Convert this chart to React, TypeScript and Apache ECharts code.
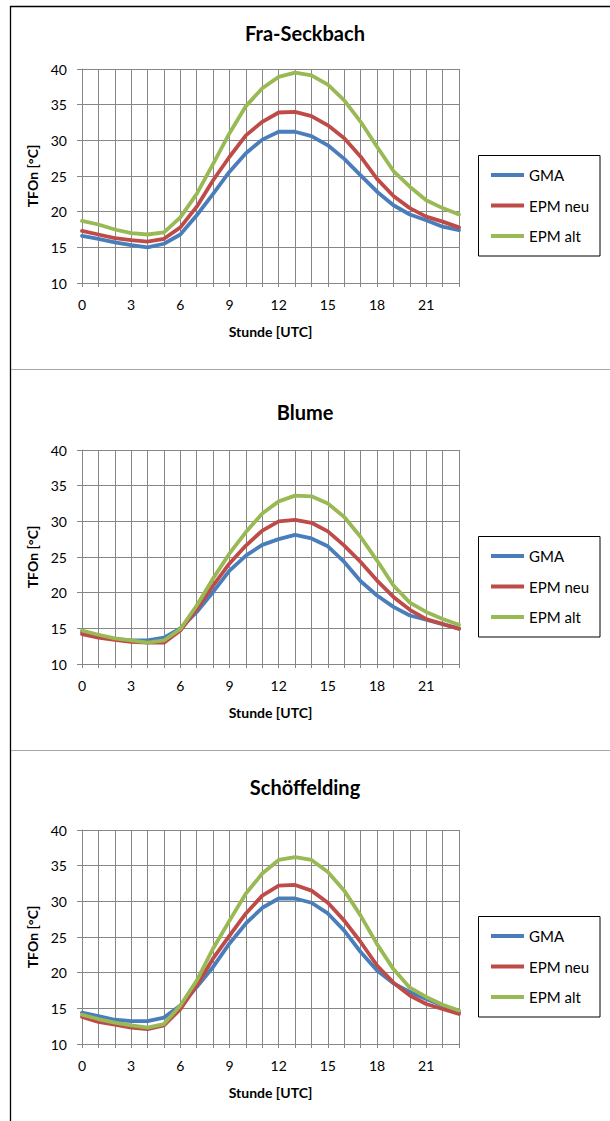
import React, { useEffect, useRef } from "react";
import * as echarts from "echarts";

// Hour categories of the daily cycle
const hours = ["0", "1", "2", "3", "4", "5", "6", "7", "8", "9", "10", "11", "12", "13", "14", "15", "16", "17", "18", "19", "20", "21", "22", "23"];

const seriesNames = ["GMA", "EPM neu", "EPM alt"];
const seriesColors = ["#4A7EBB", "#BE4B48", "#98B954"];

const stationTitles = ["Fra-Seckbach", "Blume", "Schöffelding"];

// Fra-Seckbach
const seckbachGMA = [16.6, 16.2, 15.7, 15.3, 15.0, 15.5, 16.8, 19.5, 22.5, 25.6, 28.2, 30.1, 31.2, 31.2, 30.6, 29.3, 27.4, 25.1, 22.8, 20.9, 19.6, 18.8, 17.9, 17.4];
const seckbachNeu = [17.3, 16.8, 16.3, 16.0, 15.8, 16.2, 17.8, 20.7, 24.4, 27.7, 30.7, 32.6, 33.9, 34.0, 33.4, 32.1, 30.3, 27.7, 24.6, 22.2, 20.5, 19.3, 18.6, 17.8];
const seckbachAlt = [18.7, 18.2, 17.5, 17.0, 16.8, 17.1, 19.2, 22.5, 26.7, 31.0, 34.8, 37.3, 38.9, 39.5, 39.1, 37.8, 35.6, 32.6, 29.1, 25.7, 23.5, 21.6, 20.5, 19.6];

// Blume
const blumeGMA = [14.5, 14.0, 13.5, 13.3, 13.3, 13.7, 15.0, 17.3, 20.1, 23.1, 25.2, 26.7, 27.5, 28.1, 27.6, 26.5, 24.3, 21.6, 19.6, 18.0, 16.8, 16.2, 15.6, 15.0];
const blumeNeu = [14.2, 13.7, 13.4, 13.1, 13.0, 13.0, 14.7, 17.7, 21.0, 24.1, 26.6, 28.7, 30.0, 30.2, 29.8, 28.6, 26.6, 24.3, 21.7, 19.4, 17.6, 16.3, 15.6, 14.9];
const blumeAlt = [14.7, 14.1, 13.6, 13.3, 13.0, 13.3, 14.9, 18.2, 22.0, 25.5, 28.5, 31.1, 32.8, 33.6, 33.5, 32.5, 30.6, 27.8, 24.5, 21.0, 18.6, 17.3, 16.3, 15.5];

// Schöffelding
const schoeffGMA = [14.4, 13.9, 13.4, 13.2, 13.2, 13.7, 15.4, 18.0, 20.8, 24.1, 26.9, 29.1, 30.4, 30.4, 29.8, 28.3, 25.9, 22.9, 20.3, 18.5, 17.3, 16.3, 15.4, 14.4];
const schoeffNeu = [13.8, 13.1, 12.7, 12.3, 12.1, 12.6, 14.9, 18.2, 22.0, 25.2, 28.3, 30.8, 32.2, 32.3, 31.5, 29.8, 27.3, 24.3, 21.0, 18.6, 16.8, 15.6, 14.9, 14.2];
const schoeffAlt = [14.1, 13.5, 13.0, 12.6, 12.3, 12.8, 15.4, 18.9, 23.4, 27.3, 31.1, 33.9, 35.8, 36.2, 35.8, 34.1, 31.5, 28.0, 24.0, 20.5, 17.9, 16.6, 15.5, 14.7];

const panelData = [
  [seckbachGMA, seckbachNeu, seckbachAlt],
  [blumeGMA, blumeNeu, blumeAlt],
  [schoeffGMA, schoeffNeu, schoeffAlt],
];

const yTicks = { min: 10, max: 40, interval: 5 };
const xAxisTitle = "Stunde [UTC]";
const yAxisTitle = "TFOn [°C]";

// Layout of the three stacked panels
const panelGridTops = [69, 450, 830];
const panelTitleCenters = [33, 412, 787];
const panelSeparators = [369, 750];
const gridLeft = 82;
const gridWidth = 377;
const gridHeight = 214;
const FONT = "Lato, 'Open Sans', sans-serif";
const GRID_GREY = "#868686";

export default function App() {
  const ref = useRef<HTMLDivElement>(null);

  useEffect(() => {
    if (!ref.current) return;
    const chart = echarts.init(ref.current, null, { renderer: "svg" });

    const grids: any[] = [];
    const xAxes: any[] = [];
    const yAxes: any[] = [];
    const series: any[] = [];
    const legends: any[] = [];
    const titles: any[] = [];
    const graphics: any[] = [];

    panelData.forEach((lines, p) => {
      const top = panelGridTops[p];
      grids.push({ left: gridLeft, top, width: gridWidth, height: gridHeight, containLabel: false });
      xAxes.push({
        type: "category",
        gridIndex: p,
        data: hours,
        boundaryGap: false,
        name: xAxisTitle,
        nameLocation: "middle",
        nameGap: 41,
        nameTextStyle: { fontFamily: FONT, fontWeight: "bold", fontSize: 14, color: "#000" },
        axisLine: { show: true, lineStyle: { color: GRID_GREY, width: 1 } },
        axisTick: { show: true, interval: 0, length: 4, lineStyle: { color: GRID_GREY } },
        axisLabel: { interval: 2, margin: 14, fontFamily: FONT, fontSize: 14, color: "#000" },
        splitLine: { show: true, interval: 0, lineStyle: { color: GRID_GREY, width: 1 } },
      });
      yAxes.push({
        type: "value",
        gridIndex: p,
        min: yTicks.min,
        max: yTicks.max,
        interval: yTicks.interval,
        name: yAxisTitle,
        nameLocation: "middle",
        nameGap: 38,
        nameTextStyle: { fontFamily: FONT, fontWeight: "bold", fontSize: 14, color: "#000" },
        axisLine: { show: true, lineStyle: { color: GRID_GREY, width: 1 } },
        axisTick: { show: true, length: 5, lineStyle: { color: GRID_GREY } },
        axisLabel: { margin: 15, fontFamily: FONT, fontSize: 14, color: "#000" },
        splitLine: { show: true, lineStyle: { color: GRID_GREY, width: 1 } },
      });
      lines.forEach((values, s) => {
        series.push({
          type: "line",
          name: seriesNames[s],
          xAxisIndex: p,
          yAxisIndex: p,
          data: values,
          symbol: "none",
          color: seriesColors[s],
          lineStyle: { width: 3.8, color: seriesColors[s], cap: "round", join: "round" },
        });
      });
      const legendTop = top + 86;
      legends.push({
        left: 491,
        top: legendTop + 12,
        orient: "vertical",
        padding: 0,
        icon: "rect",
        itemWidth: 33,
        itemHeight: 4,
        itemGap: 14.5,
        selectedMode: false,
        textStyle: { fontFamily: FONT, fontSize: 15, color: "#000", lineHeight: 16 },
        data: seriesNames,
      });
      graphics.push({
        type: "rect",
        shape: { x: 478.5, y: legendTop + 0.5, width: 121.5, height: 100.5 },
        style: { fill: "none", stroke: "#000", lineWidth: 1 },
        silent: true,
      });
      titles.push({
        text: stationTitles[p],
        left: "center",
        top: panelTitleCenters[p] - 12,
        padding: 0,
        textStyle: { fontFamily: FONT, fontWeight: "bold", fontSize: 20, color: "#000", lineHeight: 24 },
      });
    });

    // Frame lines of the chart boxes
    graphics.push({
      type: "line",
      shape: { x1: 10, y1: 6.5, x2: 610, y2: 6.5 },
      style: { stroke: "#000", lineWidth: 1.3 },
      silent: true,
    });
    graphics.push({
      type: "line",
      shape: { x1: 10.5, y1: 6, x2: 10.5, y2: 1121 },
      style: { stroke: "#000", lineWidth: 1.3 },
      silent: true,
    });
    panelSeparators.forEach((y) => {
      graphics.push({
        type: "line",
        shape: { x1: 11, y1: y + 0.5, x2: 610, y2: y + 0.5 },
        style: { stroke: "#a6a6a6", lineWidth: 1.2 },
        silent: true,
      });
    });

    chart.setOption({
      animation: false,
      backgroundColor: "#fff",
      title: titles,
      grid: grids,
      xAxis: xAxes,
      yAxis: yAxes,
      legend: legends,
      series,
      graphic: graphics,
    });

    return () => chart.dispose();
  }, []);

  return (
    <div
      ref={ref}
      style={{ position: "absolute", left: 0, top: 0, width: 610, height: 1121, background: "#fff" }}
    />
  );
}
